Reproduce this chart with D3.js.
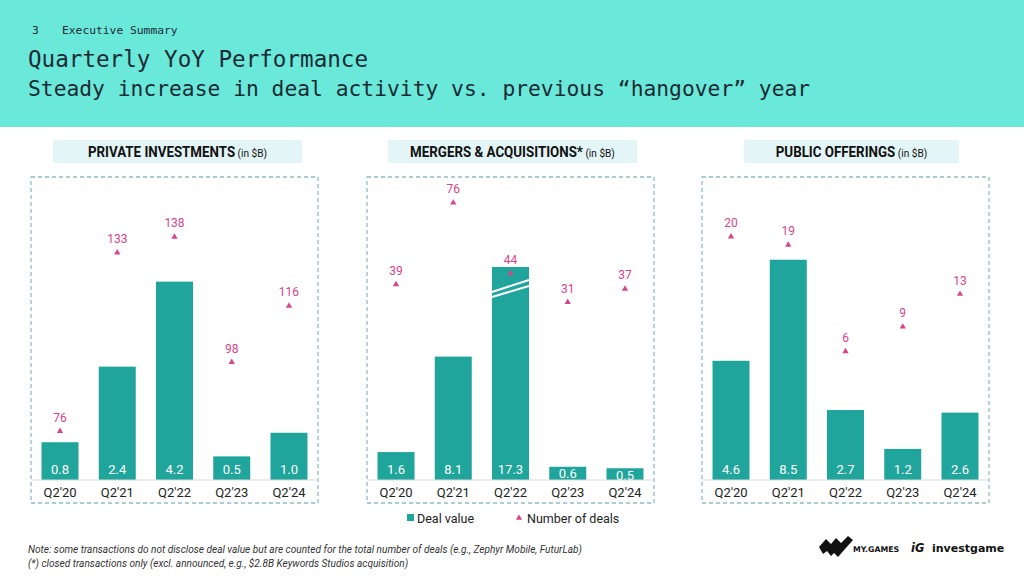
<!DOCTYPE html>
<html>
<head>
<meta charset="utf-8">
<script src="https://cdn.jsdelivr.net/npm/d3@7"></script>
<style>
  body { margin: 0; background: #fff; }
  svg { display: block; }
</style>
</head>
<body>
<svg id="chart" width="1024" height="576"></svg>
<script>
// data
const quarters = ["Q2'20", "Q2'21", "Q2'22", "Q2'23", "Q2'24"];
const panelTitles = ["PRIVATE INVESTMENTS", "MERGERS & ACQUISITIONS*", "PUBLIC OFFERINGS"];
const privateValues = [0.8, 2.4, 4.2, 0.5, 1.0];
const privateDeals = [76, 133, 138, 98, 116];
const maValues = [1.6, 8.1, 17.3, 0.6, 0.5];
const maDeals = [39, 76, 44, 31, 37];
const publicValues = [4.6, 8.5, 2.7, 1.2, 2.6];
const publicDeals = [20, 19, 6, 9, 13];

const barColor = "#1fa59b";
const dealColor = "#d9438a";
const font = "Roboto, 'Noto Sans', sans-serif";

const svg = d3.select("#chart");

// header band
svg.append("rect").attr("width", 1024).attr("height", 127).attr("fill", "#6ae9da");
const mono = "'DejaVu Sans Mono', 'Liberation Mono', monospace";
svg.append("text").attr("x", 32).attr("y", 34).attr("font-family", mono)
  .attr("font-size", 11.3).attr("fill", "#1b2b35").text("3");
svg.append("text").attr("x", 62).attr("y", 34).attr("font-family", mono)
  .attr("font-size", 11.3).attr("fill", "#1b2b35").text("Executive Summary");
svg.append("text").attr("x", 28).attr("y", 67).attr("font-family", mono)
  .attr("font-size", 22.6).attr("fill", "#1b2b35").text("Quarterly YoY Performance");
svg.append("text").attr("x", 28).attr("y", 96).attr("font-family", mono)
  .attr("font-size", 21.3).attr("fill", "#1b2b35")
  .text("Steady increase in deal activity vs. previous \u201Changover\u201D year");

// panels: layout + scale domains (cap = value where the bar gets cut)
const panels = [
  { title: panelTitles[0], values: privateValues, deals: privateDeals,
    left: 31, tbox: [53, 302], vDomain: [0, 4.51], dDomain: [60.4, 128.4] },
  { title: panelTitles[1], values: maValues, deals: maDeals,
    left: 367, tbox: [388, 637], vDomain: [-0.3, 14.2], dDomain: [-49.6, 46.9], cap: 14.2 },
  { title: panelTitles[2], values: publicValues, deals: publicDeals,
    left: 702, tbox: [744, 959], vDomain: [0, 8.22], dDomain: [-9.7, 16.3] }
];

const boxW = 287, boxTop = 177, boxBottom = 503, baseY = 480, topY = 267;
const titleFont = "Roboto, 'Noto Sans', sans-serif";

panels.forEach(p => {
  const g = svg.append("g");

  // title box
  g.append("rect")
    .attr("x", p.tbox[0]).attr("y", 140)
    .attr("width", p.tbox[1] - p.tbox[0]).attr("height", 23)
    .attr("fill", "#e3f5f6");
  const t = g.append("text")
    .attr("transform", `translate(${(p.tbox[0] + p.tbox[1]) / 2},157) scale(0.92,1)`)
    .attr("text-anchor", "middle").attr("fill", "#111")
    .attr("font-family", titleFont);
  t.append("tspan")
    .attr("font-weight", "bold").attr("font-size", 14.5).text(p.title);
  t.append("tspan")
    .attr("font-size", 11).text(" (in $B)");

  // dashed frame
  g.append("rect")
    .attr("x", p.left).attr("y", boxTop)
    .attr("width", boxW).attr("height", boxBottom - boxTop)
    .attr("fill", "none").attr("stroke", "#8fbecb")
    .attr("stroke-width", 1.3).attr("stroke-dasharray", "4,3");

  const x = d3.scaleBand()
    .domain(quarters)
    .range([p.left, p.left + boxW])
    .paddingInner(0.354)
    .paddingOuter(0.184);

  const y = d3.scaleLinear().domain(p.vDomain).range([baseY, topY]);
  const yd = d3.scaleLinear().domain(p.dDomain).range([baseY, topY]);
  const barTop = v => y(p.cap != null ? Math.min(v, p.cap) : v);

  // bars
  const bars = g.append("g").selectAll("g")
    .data(quarters.map((q, i) => ({ q, v: p.values[i], n: p.deals[i] })))
    .join("g");

  bars.append("rect")
    .attr("x", d => x(d.q))
    .attr("y", d => barTop(d.v))
    .attr("width", x.bandwidth())
    .attr("height", d => baseY - barTop(d.v))
    .attr("fill", barColor);

  // axis break for cut bars
  bars.filter(d => p.cap != null && d.v > p.cap).each(function (d) {
    const sel = d3.select(this);
    const x0 = x(d.q), x1 = x0 + x.bandwidth(), yt = barTop(d.v);
    [[25, 13], [30, 19]].forEach(o => {
      sel.append("line")
        .attr("x1", x0).attr("y1", yt + o[0])
        .attr("x2", x1).attr("y2", yt + o[1])
        .attr("stroke", "#fff").attr("stroke-width", 2);
    });
  });

  bars.append("text")
    .attr("x", d => x(d.q) + x.bandwidth() / 2)
    .attr("y", d => Math.max(baseY - 6, barTop(d.v) + 11.5))
    .attr("text-anchor", "middle")
    .attr("font-family", font).attr("font-size", 13)
    .attr("fill", "#fff")
    .text(d => d3.format(".1f")(d.v));

  // deal count markers
  bars.append("path")
    .attr("d", d3.symbol(d3.symbolTriangle, 17))
    .attr("transform", d => `translate(${x(d.q) + x.bandwidth() / 2},${yd(d.n)})`)
    .attr("fill", dealColor);

  bars.append("text")
    .attr("x", d => x(d.q) + x.bandwidth() / 2)
    .attr("y", d => yd(d.n) - 9.5)
    .attr("text-anchor", "middle")
    .attr("font-family", font).attr("font-size", 12)
    .attr("fill", dealColor)
    .text(d => d.n);

  // baseline + quarter labels
  const axis = g.append("g")
    .attr("transform", `translate(0,${baseY})`)
    .call(d3.axisBottom(x).tickSize(0).tickPadding(8));
  axis.select(".domain").attr("stroke", "#d9d9d9").attr("stroke-width", 1.2)
    .attr("d", `M${p.left},0H${p.left + boxW}`);
  axis.selectAll("text")
    .attr("font-family", font).attr("font-size", 13).attr("fill", "#222");
});

// legend
const legend = svg.append("g").attr("font-family", font).attr("font-size", 12.5).attr("fill", "#222");
legend.append("rect").attr("x", 407).attr("y", 514).attr("width", 7).attr("height", 7).attr("fill", barColor);
legend.append("text").attr("x", 417).attr("y", 522.5).text("Deal value");
legend.append("path").attr("d", d3.symbol(d3.symbolTriangle, 17))
  .attr("transform", "translate(519,518)").attr("fill", dealColor);
legend.append("text").attr("x", 527).attr("y", 522.5).text("Number of deals");

// notes
const notes = svg.append("g").attr("font-family", font).attr("font-size", 10.1)
  .attr("font-style", "italic").attr("fill", "#333");
notes.append("text").attr("x", 28).attr("y", 553)
  .text("Note: some transactions do not disclose deal value but are counted for the total number of deals (e.g., Zephyr Mobile, FuturLab)");
notes.append("text").attr("x", 28).attr("y", 567)
  .text("(*) closed transactions only (excl. announced, e.g., $2.8B Keywords Studios acquisition)");

// logos
const logo = svg.append("g");
logo.append("path")
  .attr("d", "M819,547 L826,539 L831,544 L836,538 L841,543 L848,536 L853,540 L845,549 L838,557 L834,553 L831,556 L827,551 L823,554 Z")
  .attr("fill", "#111");
logo.append("text").attr("x", 853).attr("y", 551.5).attr("font-family", "'DejaVu Sans', sans-serif")
  .attr("font-size", 7.8).attr("font-weight", "bold").attr("fill", "#111").text("MY.GAMES");
logo.append("text").attr("x", 911).attr("y", 552).attr("font-family", "'DejaVu Sans', sans-serif")
  .attr("font-size", 11.5).attr("font-weight", "bold").attr("font-style", "italic").attr("fill", "#111").text("iG");
logo.append("text").attr("x", 932).attr("y", 552).attr("font-family", "'DejaVu Sans', sans-serif")
  .attr("font-size", 11).attr("font-weight", "bold").attr("fill", "#111").text("investgame");
</script>
</body>
</html>
